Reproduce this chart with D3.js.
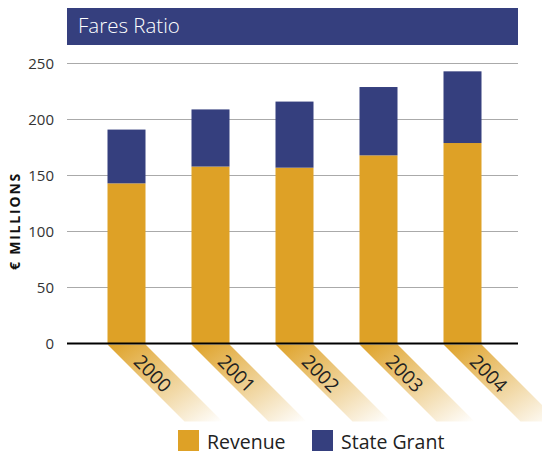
<!doctype html>
<html>
<head>
<meta charset="utf-8">
<script src="https://d3js.org/d3.v7.min.js"></script>
<style>
body {margin:0; background:#fff;}
svg text {font-family: "Open Sans", "Noto Sans", sans-serif;}
</style>
</head>
<body>
<svg width="542" height="454" class="chart"></svg>
<script>
// data
var years = ["2000", "2001", "2002", "2003", "2004"];
var revenue = [143, 158, 157, 168, 179];
var stateGrant = [48, 51, 59, 61, 64];
var yTicks = [0, 50, 100, 150, 200, 250];
var seriesNames = ["Revenue", "State Grant"];
var seriesColors = ["#dea126", "#353f7e"];

var svg = d3.select(".chart");
var left = 67, right = 518;

var x = d3.scaleBand().domain(years).range([84.5, 504.5]).padding(0);
var barW = 38;
var y = d3.scaleLinear().domain([0, 250]).range([343.5, 63.5]);

// gradient for the year stripes
var defs = svg.append("defs");
var grad = defs.append("linearGradient").attr("id", "stripe")
  .attr("x1", "0").attr("y1", "0").attr("x2", "1").attr("y2", "1");
grad.append("stop").attr("offset", "0%").attr("stop-color", "#dea126").attr("stop-opacity", 1);
grad.append("stop").attr("offset", "100%").attr("stop-color", "#dea126").attr("stop-opacity", 0);

// title bar
svg.append("rect").attr("x", left).attr("y", 8).attr("width", right - left).attr("height", 37)
  .style("fill", "#353f7e");
svg.append("text").attr("x", 78).attr("y", 33).style("fill", "#fff")
  .style("font-size", "20.5px").style("font-weight", 300).text("Fares Ratio");

// grid
svg.append("g").selectAll("line").data(yTicks.filter(function(d){return d > 0;}))
  .enter().append("line")
  .attr("x1", left).attr("x2", right)
  .attr("y1", function(d){return y(d);}).attr("y2", function(d){return y(d);})
  .style("stroke", "#aaa").style("stroke-width", 1.2);

// y labels
svg.append("g").selectAll("text").data(yTicks).enter().append("text")
  .attr("x", 54).attr("y", function(d){return y(d) + 5;})
  .attr("text-anchor", "end")
  .style("font-size", "15px").style("fill", "#333")
  .text(function(d){return d;});

svg.append("text")
  .attr("transform", "translate(20,221) rotate(-90)")
  .attr("text-anchor", "middle")
  .style("font-size", "14px").style("font-weight", "bold").style("letter-spacing", "1.8px")
  .style("fill", "#111")
  .text("€ MILLIONS");

// year stripes
var drop = 77;
svg.append("g").selectAll("path").data(years).enter().append("path")
  .attr("d", function(d){
    var x0 = x(d) + x.bandwidth()/2 - barW/2, y0 = y(0) + 1;
    return "M" + x0 + "," + y0 + "L" + (x0 + barW) + "," + y0 +
      "L" + (x0 + barW + drop) + "," + (y0 + drop) + "L" + (x0 + drop) + "," + (y0 + drop) + "Z";
  })
  .style("fill", "url(#stripe)");

svg.append("g").selectAll("text").data(years).enter().append("text")
  .attr("transform", function(d){
    var cx = x(d) + x.bandwidth()/2 + 26, cy = y(0) + 30;
    return "translate(" + cx + "," + cy + ") rotate(45)";
  })
  .attr("text-anchor", "middle").attr("dy", "0.35em")
  .style("font-size", "19px").style("fill", "#222")
  .text(function(d){return d;});

// bars
var stack = years.map(function(d, i){ return {year: d, rev: revenue[i], grant: stateGrant[i]}; });
var bars = svg.append("g");
bars.selectAll(".rev").data(stack).enter().append("rect")
  .attr("x", function(d){return x(d.year) + x.bandwidth()/2 - barW/2;})
  .attr("y", function(d){return y(d.rev);})
  .attr("width", barW)
  .attr("height", function(d){return y(0) - y(d.rev);})
  .style("fill", seriesColors[0]);
bars.selectAll(".grant").data(stack).enter().append("rect")
  .attr("x", function(d){return x(d.year) + x.bandwidth()/2 - barW/2;})
  .attr("y", function(d){return y(d.rev + d.grant);})
  .attr("width", barW)
  .attr("height", function(d){return y(d.rev) - y(d.rev + d.grant);})
  .style("fill", seriesColors[1]);

// baseline
svg.append("line").attr("x1", left).attr("x2", right).attr("y1", y(0)).attr("y2", y(0))
  .style("stroke", "#000").style("stroke-width", 2);

// legend
var legX = [178, 312];
seriesNames.forEach(function(name, i){
  svg.append("rect").attr("x", legX[i]).attr("y", 430).attr("width", 21).attr("height", 21)
    .style("fill", seriesColors[i]);
  svg.append("text").attr("x", legX[i] + 29).attr("y", 449)
    .style("font-size", "19.5px").style("fill", "#222").text(name);
});
</script>
</body>
</html>
